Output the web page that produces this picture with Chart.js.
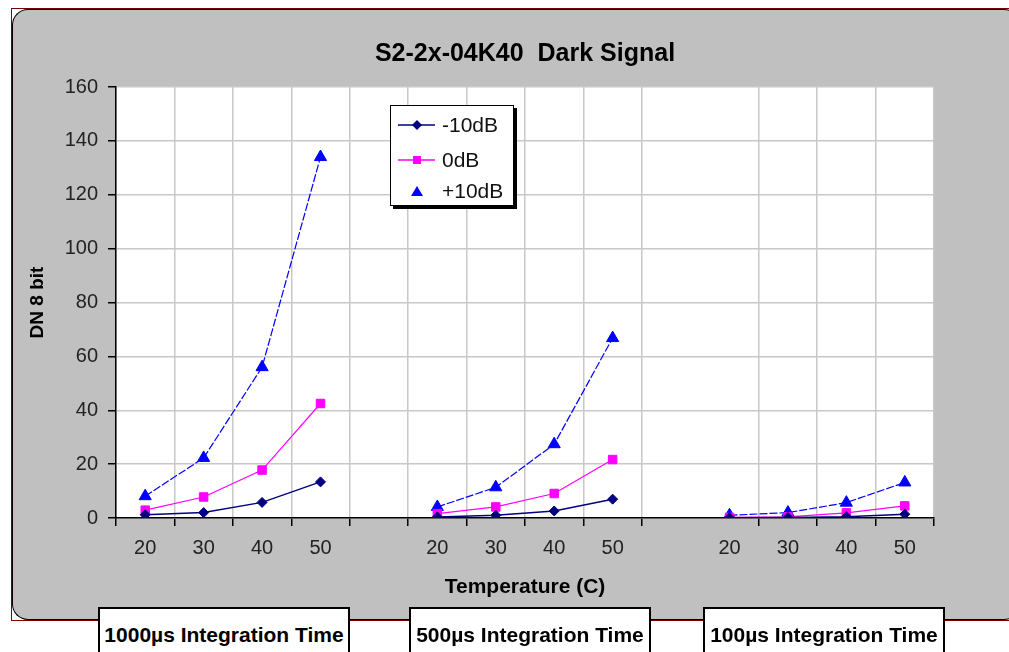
<!DOCTYPE html>
<html>
<head>
<meta charset="utf-8">
<script src="https://cdn.jsdelivr.net/npm/chart.js@4"></script>
<style>
  body { margin: 0; background: #fff; width: 1009px; height: 652px; overflow: hidden; position: relative; font-family: "Liberation Sans", Arial, sans-serif; }
  .frame { position: absolute; left: 11px; top: 8px; width: 1010px; height: 613px; border: 1px solid #7a0000; box-sizing: border-box; }
  .panel { position: absolute; left: 0; top: 0; right: 0; bottom: 0; background: #c0c0c0; border-radius: 16px; border: 1px solid #000; border-width: 1px 0 1px 1px; }
  #chart { position: absolute; left: 0; top: 0; }
  .legend { position: absolute; left: 390px; top: 105px; width: 124px; height: 101px; background: #fff; border: 1px solid #000; box-shadow: 3px 3px 0 #000; box-sizing: border-box; }
  .legend .row { position: absolute; left: 7px; height: 24px; display: flex; align-items: center; font-size: 21px; color: #111; }
  .legend svg { margin-right: 6px; }
  .group { position: absolute; top: 607px; height: 50px; background: #fff; border: 2px solid #000; box-sizing: border-box; font-weight: bold; font-size: 21px; color: #000; text-align: center; line-height: 52px; white-space: nowrap; }
</style>
</head>
<body>
<div class="frame"><div class="panel"></div></div>
<canvas id="chart" width="1009" height="652"></canvas>
<div class="legend" id="legend"></div>
<div id="groups"></div>
<script>
// temperatures on the x axis, repeated for each integration time
let temps = ["20", "30", "40", "50"];
let groupNames = ["1000µs Integration Time", "500µs Integration Time", "100µs Integration Time"];

// -10dB
let m10_1000 = [1.2, 2.0, 5.8, 13.4];
let m10_500 = [0.4, 1.0, 2.6, 7.0];
let m10_100 = [0.1, 0.2, 0.5, 1.4];
// 0dB
let db0_1000 = [2.9, 7.8, 17.8, 42.5];
let db0_500 = [1.6, 4.1, 9.1, 21.7];
let db0_100 = [0.2, 0.4, 1.9, 4.5];
// +10dB
let p10_1000 = [8.1, 22.3, 56, 134];
let p10_500 = [4.1, 11.4, 27.4, 66.8];
let p10_100 = [1.0, 2.0, 5.7, 13.2];

let yTicks = [0, 20, 40, 60, 80, 100, 120, 140, 160];

// one empty category between the groups
let labels = [...temps, "", ...temps, "", ...temps];
function join(a, b, c) {
  return [...a, null, ...b, null, ...c];
}

let series = [
  { label: "-10dB", color: "#000080", shape: "rectRot", radius: 5, width: 1.5, dash: [], data: join(m10_1000, m10_500, m10_100) },
  { label: "0dB", color: "#ff00ff", shape: "rect", radius: 6, width: 1.2, dash: [], data: join(db0_1000, db0_500, db0_100) },
  { label: "+10dB", color: "#0000ff", shape: "triangle", radius: 7, width: 1.2, dash: [8, 2], data: join(p10_1000, p10_500, p10_100) },
];

const FONT = "'Liberation Sans', Arial, sans-serif";

const plotBg = {
  id: "plotBg",
  beforeDraw(chart) {
    let { ctx, chartArea } = chart;
    ctx.save();
    ctx.fillStyle = "#fff";
    ctx.fillRect(chartArea.left, chartArea.top, chartArea.right - chartArea.left, chartArea.bottom - chartArea.top);
    ctx.restore();
  },
};

// no gridline between the 500µs and 100µs groups in the original
const skipLine = (c, col) => (c.index === 10 ? "rgba(0,0,0,0)" : col);

new Chart(document.getElementById("chart"), {
  type: "line",
  data: {
    labels: labels,
    datasets: series.map((s) => ({
      label: s.label,
      data: s.data,
      borderColor: s.color,
      backgroundColor: s.color,
      borderWidth: s.width,
      borderDash: s.dash,
      pointStyle: s.shape,
      pointRadius: s.radius,
      pointBackgroundColor: s.color,
      pointBorderColor: s.color,
      pointBorderWidth: 1,
      tension: 0,
      spanGaps: false,
    })),
  },
  options: {
    responsive: false,
    animation: false,
    devicePixelRatio: 1,
    layout: { padding: { left: 0, right: 75, top: 0, bottom: 0 } },
    plugins: {
      legend: { display: false },
      tooltip: { enabled: false },
      title: {
        display: true,
        fullSize: false,
        align: "center",
        text: "S2-2x-04K40  Dark Signal",
        color: "#000",
        font: { family: FONT, size: 25, weight: "bold" },
        padding: { top: 39, bottom: 18 },
      },
    },
    scales: {
      x: {
        type: "category",
        offset: true,
        grid: {
          offset: true,
          color: (c) => skipLine(c, "#c8c8c8"),
          tickColor: (c) => skipLine(c, "#000"),
          lineWidth: 1.5,
          tickLength: 8,
        },
        border: { color: "#000", width: 1.5 },
        ticks: { color: "#222", font: { family: FONT, size: 20 }, padding: 10, maxRotation: 0, autoSkip: false },
        title: {
          display: true,
          text: "Temperature (C)",
          color: "#000",
          font: { family: FONT, size: 21, weight: "bold" },
          padding: { top: 0, bottom: 52 },
        },
        afterFit: (s) => { s.height = 134; },
      },
      y: {
        min: 0,
        max: 160,
        afterBuildTicks: (s) => { s.ticks = yTicks.map((v) => ({ value: v })); },
        grid: { color: "#c8c8c8", tickColor: "#000", lineWidth: 1.5, tickLength: 8 },
        border: { color: "#000", width: 1.5 },
        ticks: { color: "#222", font: { family: FONT, size: 20 }, padding: 10 },
        title: {
          display: true,
          text: "DN 8 bit",
          color: "#000",
          font: { family: FONT, size: 19, weight: "bold" },
          padding: { top: 26, bottom: 0 },
        },
        afterFit: (s) => { s.width = 116; },
      },
    },
  },
  plugins: [plotBg],
});

// legend box
let legend = document.getElementById("legend");
let rowTops = [7, 42, 73];
let marks = {
  rectRot: (c) => `<polygon points="19,1 24,6 19,11 14,6" fill="${c}"/>`,
  rect: (c) => `<rect x="15" y="2" width="8" height="8" fill="${c}"/>`,
  triangle: (c) => `<polygon points="19,1 25,11 13,11" fill="${c}"/>`,
};
series.forEach((s, i) => {
  let line = s.shape === "triangle" ? "" : `<line x1="0" y1="6" x2="37" y2="6" stroke="${s.color}" stroke-width="1.5"/>`;
  let row = document.createElement("div");
  row.className = "row";
  row.style.top = rowTops[i] + "px";
  row.innerHTML = `<svg width="38" height="12">${line}${marks[s.shape](s.color)}</svg>${s.label}`;
  legend.appendChild(row);
});

// group captions under the chart
let groupBoxes = [[98, 252], [409, 242], [703, 242]];
let groupsEl = document.getElementById("groups");
groupNames.forEach((name, i) => {
  let d = document.createElement("div");
  d.className = "group";
  d.style.left = groupBoxes[i][0] + "px";
  d.style.width = groupBoxes[i][1] + "px";
  d.textContent = name;
  groupsEl.appendChild(d);
});
</script>
</body>
</html>
